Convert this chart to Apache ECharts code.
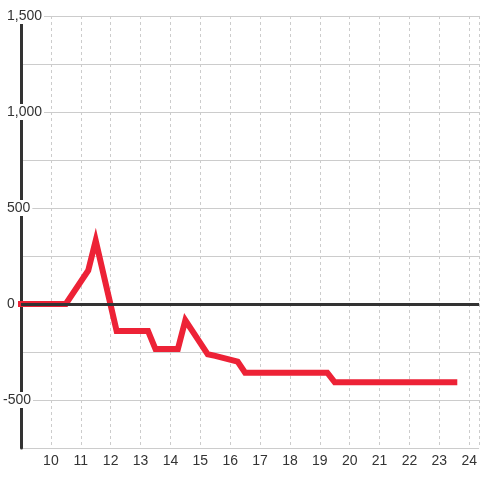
<!DOCTYPE html>
<html>
<head>
<meta charset="utf-8">
<script src="https://cdn.jsdelivr.net/npm/echarts@6/dist/echarts.min.js"></script>
<style>
html, body { margin: 0; padding: 0; background: #fff; }
#chart { width: 480px; height: 480px; }
</style>
</head>
<body>
<div id="chart"></div>
<script>
var hours = [9, 10.5, 11.25, 11.5, 12.2, 13.25, 13.5, 14.25, 14.5, 15.25, 15.5, 16.25, 16.5, 19.25, 19.5, 23.5];
var values = [0, 0, 175, 330, -140, -140, -235, -235, -85, -262, -270, -300, -358, -358, -408, -408];
var xTicks = [10, 11, 12, 13, 14, 15, 16, 17, 18, 19, 20, 21, 22, 23, 24];
var yTicks = [-500, 0, 500, 1000, 1500];

var data = [];
for (var i = 0; i < hours.length; i++) {
	data.push([hours[i], values[i]]);
}

var myChart = echarts.init(document.getElementById('chart'));
var option = {
	animation: false,
	backgroundColor: '#fff',
	textStyle: { fontFamily: 'Liberation Sans' },
	grid: { left: 20, right: 0, top: 16, bottom: 32 },
	xAxis: {
		type: 'value',
		min: 9,
		max: 24.33,
		interval: 1,
		axisLine: { show: false },
		axisTick: { show: false },
		axisLabel: {
			margin: 6,
			color: '#333',
			fontSize: 14,
			showMaxLabel: false,
			formatter: function (v) {
				return xTicks.indexOf(v) >= 0 ? String(v) : '';
			}
		},
		splitLine: { show: true, lineStyle: { color: '#ccc', type: [3, 3], width: 1 } }
	},
	yAxis: {
		type: 'value',
		min: -750,
		max: 1500,
		interval: 250,
		axisLine: { show: true, lineStyle: { color: '#333', width: 3 } },
		axisTick: { show: false },
		axisLabel: {
			align: 'left',
			margin: 18,
			color: '#333',
			fontSize: 14,
			formatter: function (v) {
				if (yTicks.indexOf(v) < 0) return '';
				var s = v.toLocaleString('en-US');
				return v < 0 ? '{n|' + s + '}' : '{p|' + s + '}';
			},
			rich: {
				p: { padding: [1, 2, 1, 4], backgroundColor: '#fff', color: '#333', fontSize: 14, fontFamily: 'Liberation Sans' },
				n: { padding: [1, 2, 1, 0], backgroundColor: '#fff', color: '#333', fontSize: 14, fontFamily: 'Liberation Sans' }
			}
		},
		splitLine: { show: true, lineStyle: { color: '#ccc', width: 1 } }
	},
	series: [
		{
			type: 'line',
			data: [],
			z: 1,
			silent: true,
			markLine: {
				silent: true,
				symbol: 'none',
				label: { show: false },
				lineStyle: { color: '#333', width: 3, type: 'solid' },
				data: [{ yAxis: 0 }]
			}
		},
		{
			type: 'line',
			data: data,
			z: 3,
			showSymbol: false,
			lineStyle: { color: '#ED2236', width: 6, cap: 'square', join: 'miter' }
		}
	]
};
myChart.setOption(option);
</script>
</body>
</html>
